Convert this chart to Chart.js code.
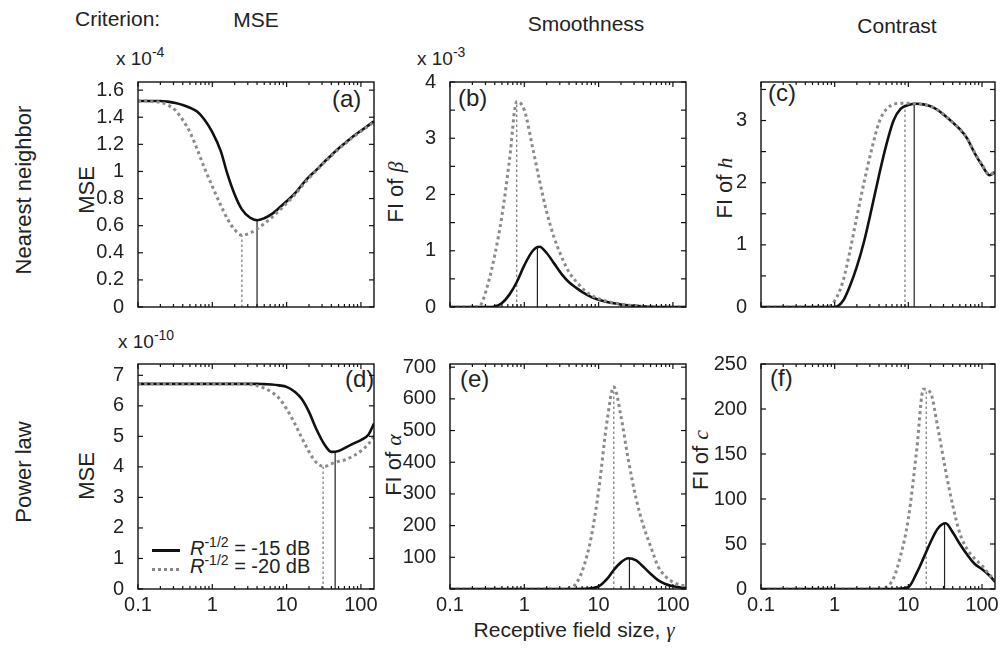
<!DOCTYPE html>
<html>
<head>
<meta charset="utf-8">
<script src="https://cdn.jsdelivr.net/npm/chart.js@4.4.0/dist/chart.umd.min.js"></script>
<style>
  html, body { margin: 0; padding: 0; background: #fff; }
  #fig { position: relative; width: 1000px; height: 649px; overflow: hidden;
         font-family: "Liberation Sans", Arial, sans-serif; color: #222; }
  #fig canvas { position: absolute; }
  .t { position: absolute; white-space: nowrap; line-height: 1; }
  .c { transform: translateX(-50%); }
  .rot { transform: translate(-50%, -50%) rotate(-90deg); }
  .m { font-family: "Liberation Serif", serif; font-style: italic; }
  .sup { position: relative; top: -8px; font-size: 14px; }
</style>
</head>
<body>
<div id="fig">
  <div class="t" style="left:75px;top:8px;font-size:21px">Criterion:</div>
  <div class="t c" style="left:256px;top:9px;font-size:21px">MSE</div>
  <div class="t c" style="left:586px;top:13px;font-size:21px">Smoothness</div>
  <div class="t c" style="left:897px;top:15px;font-size:21px">Contrast</div>

  <div class="t rot" style="left:24px;top:190px;font-size:22px">Nearest neighbor</div>
  <div class="t rot" style="left:24px;top:472px;font-size:22px">Power law</div>

  <div class="t c" style="left:574px;top:619px;font-size:21px">Receptive field size, <span class="m">γ</span></div>

  <div class="t rot" style="left:87px;top:190px;font-size:22px">MSE</div>
  <div class="t rot" style="left:396px;top:192px;font-size:22px">FI of <span class="m">β</span></div>
  <div class="t rot" style="left:725px;top:188px;font-size:22px">FI of <span class="m">h</span></div>
  <div class="t rot" style="left:87px;top:476px;font-size:22px">MSE</div>
  <div class="t rot" style="left:394px;top:465px;font-size:22px">FI of <span class="m">α</span></div>
  <div class="t rot" style="left:701px;top:460px;font-size:22px">FI of <span class="m">c</span></div>

  <div class="t" style="left:116px;top:49px;font-size:19px">x 10<span class="sup">-4</span></div>
  <div class="t" style="left:417px;top:49px;font-size:19px">x 10<span class="sup">-3</span></div>
  <div class="t" style="left:118px;top:332px;font-size:19px">x 10<span class="sup">-10</span></div>

  <div class="t" style="left:332px;top:87px;font-size:24px">(a)</div>
  <div class="t" style="left:458px;top:86px;font-size:24px">(b)</div>
  <div class="t" style="left:768px;top:81px;font-size:24px">(c)</div>
  <div class="t" style="left:345px;top:367px;font-size:24px">(d)</div>
  <div class="t" style="left:460px;top:367px;font-size:24px">(e)</div>
  <div class="t" style="left:770px;top:366px;font-size:24px">(f)</div>

  <div class="t" style="left:152px;top:549px;width:28px;height:3px;background:#111"></div>
  <div class="t" style="left:152px;top:568px;width:28px;height:3px;background:repeating-linear-gradient(90deg,#888 0 3px,transparent 3px 6px)"></div>
  <div class="t" style="left:190px;top:538px;font-size:20px"><i>R</i><span class="sup">-1/2</span> = -15 dB</div>
  <div class="t" style="left:190px;top:556px;font-size:20px"><i>R</i><span class="sup">-1/2</span> = -20 dB</div>
</div>
<script>
// receptive field size (x values, shared by every panel)
const gamma = [0.1, 0.13, 0.16, 0.2, 0.25, 0.32, 0.4, 0.5, 0.63, 0.79, 1, 1.3, 1.6, 2, 2.5, 3.2, 4, 5,
  6.3, 7.9, 10, 13, 16, 20, 25, 32, 40, 50, 63, 79, 100, 126, 150];
const xTickLabels = [0.1, 1, 10, 100];

// (a) nearest neighbor, MSE (x 1e-4)
const mseNN15 = [1.52, 1.52, 1.52, 1.52, 1.515, 1.505, 1.49, 1.47, 1.44, 1.38, 1.29, 1.15, 0.98, 0.83, 0.72, 0.66, 0.64, 0.655,
  0.685, 0.73, 0.78, 0.84, 0.90, 0.96, 1.01, 1.07, 1.12, 1.17, 1.215, 1.26, 1.30, 1.34, 1.37];
const mseNN20 = [1.52, 1.52, 1.515, 1.51, 1.49, 1.45, 1.38, 1.29, 1.16, 1.02, 0.89, 0.75, 0.65, 0.57, 0.53, 0.545, 0.575, 0.615,
  0.66, 0.71, 0.765, 0.83, 0.89, 0.95, 1.005, 1.065, 1.115, 1.165, 1.21, 1.255, 1.295, 1.335, 1.365];
// (b) nearest neighbor, FI of beta (x 1e-3)
const betaNN15 = [0, 0, 0, 0, 0, 0, 0.01, 0.07, 0.22, 0.44, 0.74, 1.0, 1.07, 0.96, 0.78, 0.58, 0.44, 0.34,
  0.25, 0.18, 0.13, 0.09, 0.065, 0.045, 0.03, 0.02, 0.01, 0.005, 0, 0, 0, 0, 0];
const betaNN20 = [0, 0, 0, 0, 0.02, 0.38, 0.92, 1.62, 2.6, 3.65, 3.5, 2.82, 2.25, 1.69, 1.25, 0.88, 0.62, 0.45,
  0.31, 0.21, 0.15, 0.10, 0.075, 0.05, 0.035, 0.02, 0.01, 0.005, 0, 0, 0, 0, 0];
// (c) nearest neighbor, FI of h
const hNN15 = [0, 0, 0, 0, 0, 0, 0, 0, 0, 0, 0, 0.1, 0.33, 0.65, 1.05, 1.6, 2.12, 2.6,
  3.0, 3.19, 3.25, 3.27, 3.26, 3.23, 3.17, 3.07, 2.97, 2.86, 2.71, 2.48, 2.28, 2.12, 2.17];
const hNN20 = [0, 0, 0, 0, 0, 0, 0, 0, 0, 0, 0.1, 0.42, 0.88, 1.45, 2.0, 2.55, 2.97, 3.18,
  3.26, 3.28, 3.28, 3.27, 3.26, 3.23, 3.17, 3.07, 2.97, 2.86, 2.71, 2.49, 2.29, 2.13, 2.18];
// (d) power law, MSE (x 1e-10)
const msePL15 = [6.72, 6.72, 6.72, 6.72, 6.72, 6.72, 6.72, 6.72, 6.72, 6.72, 6.72, 6.72, 6.72, 6.72, 6.72, 6.72, 6.72, 6.71,
  6.70, 6.67, 6.62, 6.45, 6.22, 5.80, 5.25, 4.75, 4.49, 4.52, 4.64, 4.76, 4.88, 5.05, 5.42];
const msePL20 = [6.72, 6.72, 6.72, 6.72, 6.72, 6.72, 6.72, 6.72, 6.72, 6.72, 6.72, 6.72, 6.72, 6.72, 6.72, 6.70, 6.66, 6.58,
  6.45, 6.25, 5.9, 5.4, 4.95, 4.5, 4.15, 4.01, 4.1, 4.18, 4.24, 4.36, 4.52, 4.75, 5.0];
// (e) power law, FI of alpha
const alphaPL15 = [0, 0, 0, 0, 0, 0, 0, 0, 0, 0, 0, 0, 0, 0, 0, 0, 0, 0,
  0.5, 2, 8, 32, 60, 84, 97, 90, 70, 48, 28, 16, 9, 5, 3];
const alphaPL20 = [0, 0, 0, 0, 0, 0, 0, 0, 0, 0, 0, 0, 0, 0, 0, 0, 3, 18,
  70, 160, 310, 530, 638, 545, 410, 285, 200, 135, 72, 40, 22, 13, 9];
// (f) power law, FI of c
const cPL15 = [0, 0, 0, 0, 0, 0, 0, 0, 0, 0, 0, 0, 0, 0, 0, 0, 0, 0,
  0, 0.5, 2, 18, 34, 52, 67, 73, 63, 50, 38, 28, 22, 15, 8];
const cPL20 = [0, 0, 0, 0, 0, 0, 0, 0, 0, 0, 0, 0, 0, 0, 0, 0, 0, 2,
  12, 38, 78, 155, 222, 218, 180, 132, 93, 62, 44, 34, 26, 16, 10];

// optimum (vertical marker) per panel a..f
const optGamma15 = [4.0, 1.5, 12, 45, 26, 31];
const optValue15 = [0.64, 1.07, 3.27, 4.48, 97, 73];
const optGamma20 = [2.5, 0.79, 9, 31, 16, 17.5];
const optValue20 = [0.53, 3.65, 3.28, 4.01, 638, 222];

// y tick labels / tick marks
const yLabA = [0, 0.2, 0.4, 0.6, 0.8, 1, 1.2, 1.4, 1.6];
const yLabB = [0, 1, 2, 3, 4];
const yMarkB = [0, 0.5, 1, 1.5, 2, 2.5, 3, 3.5, 4];
const yLabC = [0, 1, 2, 3];
const yMarkC = [0, 0.5, 1, 1.5, 2, 2.5, 3, 3.5];
const yLabD = [0, 1, 2, 3, 4, 5, 6, 7];
const yLabE = [100, 200, 300, 400, 500, 600, 700];
const yMarkE = [0, 100, 200, 300, 400, 500, 600, 700];
const yLabF = [0, 50, 100, 150, 200, 250];

const panels = [
  { s15: mseNN15, s20: mseNN20, yMax: 1.66, yLab: yLabA, yMark: yLabA },
  { s15: betaNN15, s20: betaNN20, yMax: 4, yLab: yLabB, yMark: yMarkB },
  { s15: hNN15, s20: hNN20, yMax: 3.62, yLab: yLabC, yMark: yMarkC },
  { s15: msePL15, s20: msePL20, yMax: 7.37, yLab: yLabD, yMark: yLabD },
  { s15: alphaPL15, s20: alphaPL20, yMax: 710, yLab: yLabE, yMark: yMarkE },
  { s15: cPL15, s20: cPL20, yMax: 250, yLab: yLabF, yMark: yLabF }
];

const cols = [138, 450, 761];
const colW = [236, 236, 234];
const rows = [71, 353];
const plotH = 236;
const padL = 80, padT = 15, padR = 15, padB = 40;
const fig = document.getElementById('fig');

const xMinor = [];
[0.1, 1, 10, 100].forEach(d => {
  for (let m = 2; m <= 9; m++) if (d * m <= 150) xMinor.push(d * m);
});

const framePlugin = {
  id: 'frame',
  afterDatasetsDraw(chart, args, opts) {
    const { ctx, chartArea: a, scales: { x, y } } = chart;
    ctx.save();
    ctx.strokeStyle = '#111';
    ctx.lineWidth = 1.2;
    const seg = (x1, y1, x2, y2) => { ctx.beginPath(); ctx.moveTo(x1, y1); ctx.lineTo(x2, y2); ctx.stroke(); };
    xTickLabels.forEach(v => {
      const p = x.getPixelForValue(v);
      seg(p, a.bottom, p, a.bottom - 5); seg(p, a.top, p, a.top + 5);
    });
    xMinor.forEach(v => {
      const p = x.getPixelForValue(v);
      seg(p, a.bottom, p, a.bottom - 3); seg(p, a.top, p, a.top + 3);
    });
    opts.marks.forEach(v => {
      const p = y.getPixelForValue(v);
      seg(a.left, p, a.left + 5, p); seg(a.right, p, a.right - 5, p);
    });
    ctx.lineWidth = 1.4;
    ctx.strokeRect(a.left, a.top, a.right - a.left, a.bottom - a.top);
    ctx.restore();
  }
};

const pts = vals => gamma.map((g, i) => ({ x: g, y: vals[i] }));
const vline = (g, v) => [{ x: g, y: 0 }, { x: g, y: v }];

panels.forEach((p, i) => {
  const bottomRow = i >= 3;
  const c = document.createElement('canvas');
  const w = padL + colW[i % 3] + padR, h = padT + plotH + padB;
  c.width = w; c.height = h;
  c.style.width = w + 'px'; c.style.height = h + 'px';
  c.style.left = (cols[i % 3] - padL) + 'px';
  c.style.top = (rows[Math.floor(i / 3)] - padT) + 'px';
  fig.appendChild(c);

  new Chart(c, {
    type: 'line',
    data: {
      datasets: [
        { data: pts(p.s20), borderColor: '#8a8a8a', borderWidth: 3, borderDash: [3, 3.2], cubicInterpolationMode: 'monotone' },
        { data: pts(p.s15), borderColor: '#111', borderWidth: 2.6, cubicInterpolationMode: 'monotone' },
        { data: vline(optGamma20[i], optValue20[i]), borderColor: '#888', borderWidth: 1.4, borderDash: [2.5, 2.5] },
        { data: vline(optGamma15[i], optValue15[i]), borderColor: '#222', borderWidth: 1.2 }
      ]
    },
    options: {
      responsive: false,
      animation: false,
      devicePixelRatio: 1,
      parsing: false,
      layout: { padding: { left: 0, top: padT, right: padR, bottom: 0 } },
      elements: { point: { radius: 0 }, line: { borderCapStyle: 'butt', fill: false } },
      plugins: { legend: { display: false }, tooltip: { enabled: false }, frame: { marks: p.yMark } },
      scales: {
        x: {
          type: 'logarithmic', min: 0.1, max: 150, bounds: 'data',
          grid: { display: false, drawTicks: false }, border: { display: false },
          afterBuildTicks: s => { s.ticks = xTickLabels.map(v => ({ value: v })); },
          afterFit: s => { s.height = padB; },
          ticks: {
            display: bottomRow, color: '#222', padding: 4, maxRotation: 0, autoSkip: false,
            font: { family: 'Liberation Sans', size: 20 },
            callback: v => String(v)
          }
        },
        y: {
          type: 'linear', min: 0, max: p.yMax, bounds: 'data',
          grid: { display: false, drawTicks: false }, border: { display: false },
          afterBuildTicks: s => { s.ticks = p.yLab.map(v => ({ value: v })); },
          afterFit: s => { s.width = padL; },
          ticks: {
            color: '#222', padding: 14, autoSkip: false,
            font: { family: 'Liberation Sans', size: 20 },
            callback: v => String(v)
          }
        }
      }
    },
    plugins: [framePlugin]
  });
});
</script>
</body>
</html>
